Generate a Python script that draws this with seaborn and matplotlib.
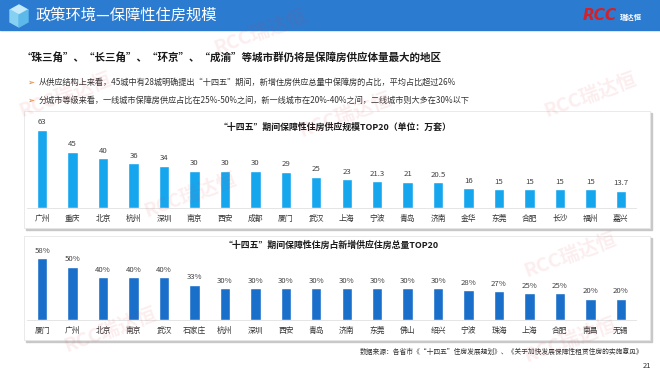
import matplotlib
matplotlib.use("Agg")
import matplotlib.pyplot as plt
import seaborn as sns
import pandas as pd
from matplotlib.patches import Rectangle, Polygon

# Data
supply_cities = ['广州', '重庆', '北京', '杭州', '深圳', '南京', '西安', '成都', '厦门', '武汉',
                 '上海', '宁波', '青岛', '济南', '金华', '东莞', '合肥', '长沙', '福州', '嘉兴']
supply_values = [63, 45, 40, 36, 34, 30, 30, 30, 29, 25, 23, 21.3, 21, 20.5, 16, 15, 15, 15, 15, 13.7]

share_cities = ['厦门', '广州', '北京', '南京', '武汉', '石家庄', '杭州', '深圳', '西安', '青岛',
                '济南', '东莞', '佛山', '绍兴', '宁波', '珠海', '上海', '合肥', '南昌', '无锡']
share_values = [58, 50, 40, 40, 40, 33, 30, 30, 30, 30, 30, 30, 30, 30, 28, 27, 25, 25, 20, 20]

sns.set_theme(style="white")
plt.rcParams['font.family'] = ['Noto Sans CJK SC', 'DejaVu Sans']

W, H = 660, 372
fig = plt.figure(figsize=(W / 100, H / 100), dpi=100)


def px_axes(x0, y0, x1, y1, z):
    ax = fig.add_axes([x0 / W, 1 - y1 / H, (x1 - x0) / W, (y1 - y0) / H], zorder=z)
    return ax


# background layer in pixel coordinates
bg = px_axes(0, 0, W, H, 0)
bg.set_xlim(0, W)
bg.set_ylim(H, 0)
bg.axis('off')

# header strip
bg.add_patch(Rectangle((0, 0), W, 30, color='#2B7BD0'))
# cube icon
bg.add_patch(Polygon([(10, 10), (19, 5), (28, 10), (19, 15)], color='#C5EAFA'))
bg.add_patch(Polygon([(10, 10), (19, 15), (19, 27), (10, 22)], color='#86D1F2'))
bg.add_patch(Polygon([(19, 15), (28, 10), (28, 22), (19, 27)], color='#5DB9EA'))
bg.text(36, 15.5, '政策环境—保障性住房规模', color='white', fontsize=11, va='center', ha='left')
# logo
bg.text(583, 16, 'RCC', color='#D42027', fontsize=11, fontweight='bold', fontstyle='italic',
        va='center', ha='left', family=['Liberation Sans Narrow', 'DejaVu Sans'])
bg.text(642, 17, '瑞达恒', color='white', fontsize=5.3, fontweight='bold', va='center', ha='right')

# headline and bullets
bg.text(22, 57, '“珠三角”、“长三角”、“环京”、“成渝”等城市群仍将是保障房供应体量最大的地区',
        fontsize=7.6, fontweight='bold', color='#1A1A1A', va='center', ha='left')
bullets = ['从供应结构上来看，45城中有28城明确提出“十四五”期间，新增住房供应总量中保障房的占比，平均占比超过26%',
           '分城市等级来看，一线城市保障房供应占比在25%-50%之间，新一线城市在20%-40%之间，二线城市则大多在30%以下']
for yy, t in zip([82, 100], bullets):
    bg.text(27, yy, '➢', fontsize=6, color='#E8731A', va='center', ha='left', family=['DejaVu Sans'])
    bg.text(39, yy, t, fontsize=5.9, color='#333333', va='center', ha='left')

# chart panels with shadow
for (y0, y1) in [(111, 228), (236, 340)]:
    bg.add_patch(Rectangle((26, y0 + 2), 626, y1 - y0, color='#C8C8C8'))
    bg.add_patch(Rectangle((24, y0), 626, y1 - y0, facecolor='white', edgecolor='#E6E6E6', lw=0.6))

bg.text(335, 127, '“十四五”期间保障性住房供应规模TOP20（单位：万套）', fontsize=6.4,
        fontweight='bold', color='#1A1A1A', va='center', ha='center')
bg.text(331, 245, '“十四五”期间保障性住房占新增供应住房总量TOP20', fontsize=6.4,
        fontweight='bold', color='#1A1A1A', va='center', ha='center')

bg.text(643, 352, '数据来源：各省市《“十四五”住房发展规划》、《关于加快发展保障性租赁住房的实施意见》',
        fontsize=4.9, color='#333333', va='center', ha='right')
bg.text(651, 366, '21', fontsize=5.5, color='#333333', va='center', ha='right')


def draw_bars(ax, cities, values, color, labels, ymax):
    df = pd.DataFrame({'city': cities, 'value': values})
    sns.barplot(data=df, x='city', y='value', color=color, width=0.34, ax=ax, saturation=1)
    ax.bar_label(ax.containers[0], labels=labels, fontsize=5.6, color='#404040', padding=2.5)
    ax.set_xlim(-0.5, 19.5)
    ax.set_ylim(0, ymax)
    ax.set_xlabel('')
    ax.set_ylabel('')
    ax.set_yticks([])
    ax.tick_params(axis='x', length=0, pad=5, labelsize=5.6, labelcolor='#333333')
    for s in ['top', 'left', 'right']:
        ax.spines[s].set_visible(False)
    ax.spines['bottom'].set_color('#E0E0E0')
    ax.spines['bottom'].set_linewidth(0.6)
    ax.patch.set_alpha(0)


ax1 = px_axes(27, 108, 636, 208, 2)
draw_bars(ax1, supply_cities, supply_values, '#15A6EE',
          [f'{v:g}' for v in supply_values], 63 * 100 / 78.5)

ax2 = px_axes(27, 245, 636, 320, 2)
draw_bars(ax2, share_cities, share_values, '#1A6FCA',
          [f'{v}%' for v in share_values], 75 / 1.066)

# watermark overlay
wm = px_axes(0, 0, W, H, 5)
wm.set_xlim(0, W)
wm.set_ylim(H, 0)
wm.axis('off')
for (x, y) in [(260, 32), (65, 95), (190, 195), (110, 330), (590, 95), (570, 255), (570, 340), (345, 115)]:
    wm.text(x, y, 'RCC瑞达恒', fontsize=14, fontweight='bold', color='#E04050', alpha=0.09,
            rotation=20, ha='center', va='center')

fig.savefig('out.png', dpi=100)
